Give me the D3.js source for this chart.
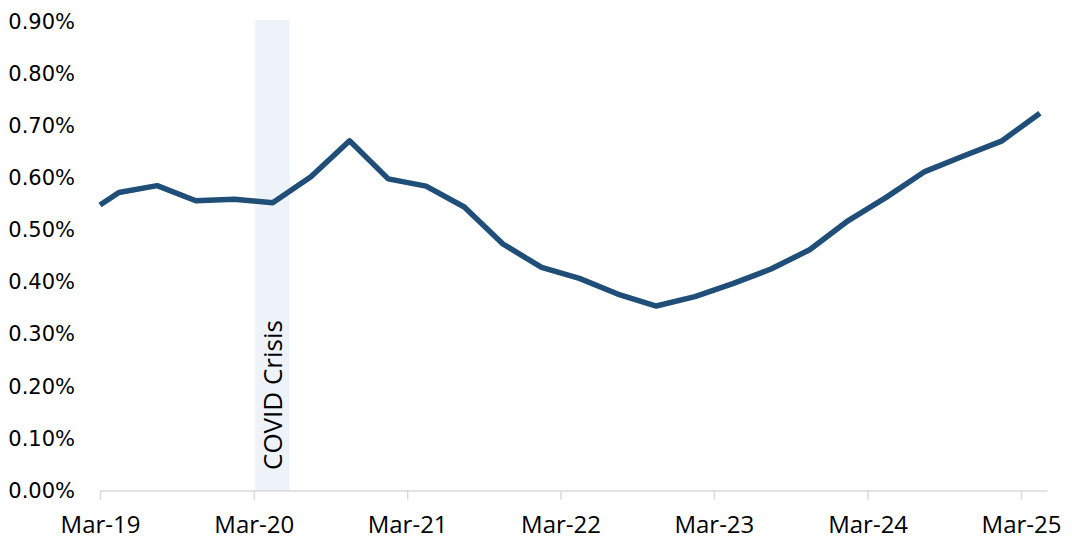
<!DOCTYPE html>
<html>
<head>
<meta charset="utf-8">
<script src="https://cdn.jsdelivr.net/npm/d3@7/dist/d3.min.js"></script>
<style>
  html, body { margin: 0; padding: 0; background: #ffffff; }
  svg { display: block; }
</style>
</head>
<body>
<svg id="chart" width="1072" height="552"></svg>
<script>
// ---- Data ----
const dates = [
  "2019-03-01","2019-04-15","2019-07-15","2019-10-15",
  "2020-01-15","2020-04-15","2020-07-15","2020-10-15",
  "2021-01-15","2021-04-15","2021-07-15","2021-10-15",
  "2022-01-15","2022-04-15","2022-07-15","2022-10-15",
  "2023-01-15","2023-04-15","2023-07-15","2023-10-15",
  "2024-01-15","2024-04-15","2024-07-15","2024-10-15",
  "2025-01-15","2025-04-15"
];
const values = [
  0.548, 0.572, 0.585, 0.556,
  0.559, 0.552, 0.602, 0.671,
  0.598, 0.584, 0.544, 0.473,
  0.428, 0.407, 0.377, 0.354,
  0.372, 0.397, 0.425, 0.462,
  0.518, 0.563, 0.612, 0.642,
  0.671, 0.724
];
const xTickDates = ["2019-03-01","2020-03-01","2021-03-01","2022-03-01","2023-03-01","2024-03-01","2025-03-01"];
const xTickLabels = ["Mar-19","Mar-20","Mar-21","Mar-22","Mar-23","Mar-24","Mar-25"];
const yTicks = [0, 0.1, 0.2, 0.3, 0.4, 0.5, 0.6, 0.7, 0.8, 0.9];
const yTickLabels = ["0.00%","0.10%","0.20%","0.30%","0.40%","0.50%","0.60%","0.70%","0.80%","0.90%"];
const covidBand = ["2020-03-01", "2020-05-22"];
const covidLabel = "COVID Crisis";

// ---- Setup ----
const parse = d3.timeParse("%Y-%m-%d");
const svg = d3.select("#chart");

const x = d3.scaleTime()
  .domain([parse(xTickDates[0]), parse(xTickDates[xTickDates.length - 1])])
  .range([100, 1021]);
const xAxisEnd = 1047;
const xAxisScale = x.copy().domain([x.domain()[0], x.invert(xAxisEnd)]).range([100, xAxisEnd]);

const y = d3.scaleLinear().domain([0, 0.9]).range([490.5, 21.5]);

// ---- COVID band ----
const bx0 = x(parse(covidBand[0])), bx1 = x(parse(covidBand[1]));
svg.append("rect")
  .attr("x", bx0 + 1.5)
  .attr("y", y(0.9) - 1.5)
  .attr("width", bx1 - bx0)
  .attr("height", y(0) - y(0.9) + 1.5)
  .attr("fill", "#eef2f9");

svg.append("text")
  .attr("transform", `translate(${(bx0 + bx1) / 2 + 11},${470}) rotate(-90)`)
  .attr("text-anchor", "start")
  .attr("font-family", "'Open Sans', sans-serif")
  .attr("font-size", 26)
  .attr("fill", "#000")
  .text(covidLabel);

// ---- X axis ----
const xAxis = d3.axisBottom(xAxisScale)
  .tickValues(xTickDates.map(parse))
  .tickFormat((d, i) => xTickLabels[i])
  .tickSizeInner(9)
  .tickSizeOuter(0)
  .tickPadding(16);

const gx = svg.append("g")
  .attr("transform", `translate(0,${y(0)})`)
  .call(xAxis);
gx.select(".domain").attr("stroke", "#d9d9d9").attr("stroke-width", 1.5);
gx.selectAll(".tick line").attr("stroke", "#d9d9d9").attr("stroke-width", 1.5);
gx.selectAll(".tick text")
  .attr("font-family", "'Open Sans', sans-serif")
  .attr("font-size", 24)
  .attr("fill", "#000");

// ---- Y axis (labels only) ----
const yAxis = d3.axisLeft(y)
  .tickValues(yTicks)
  .tickFormat((d, i) => yTickLabels[i])
  .tickSize(0)
  .tickPadding(0);
const gy = svg.append("g")
  .attr("transform", "translate(75,0)")
  .call(yAxis);
gy.select(".domain").remove();
gy.selectAll(".tick text")
  .attr("font-family", "'DejaVu Sans', sans-serif")
  .attr("font-size", 21)
  .attr("fill", "#000");

// ---- Line ----
const data = dates.map((d, i) => ({ date: parse(d), value: values[i] }));
const line = d3.line()
  .x(d => x(d.date))
  .y(d => y(d.value));

svg.append("path")
  .datum(data)
  .attr("fill", "none")
  .attr("stroke", "#1f4e79")
  .attr("stroke-width", 5.5)
  .attr("stroke-linejoin", "round")
  .attr("stroke-linecap", "butt")
  .attr("d", line);
</script>
</body>
</html>
